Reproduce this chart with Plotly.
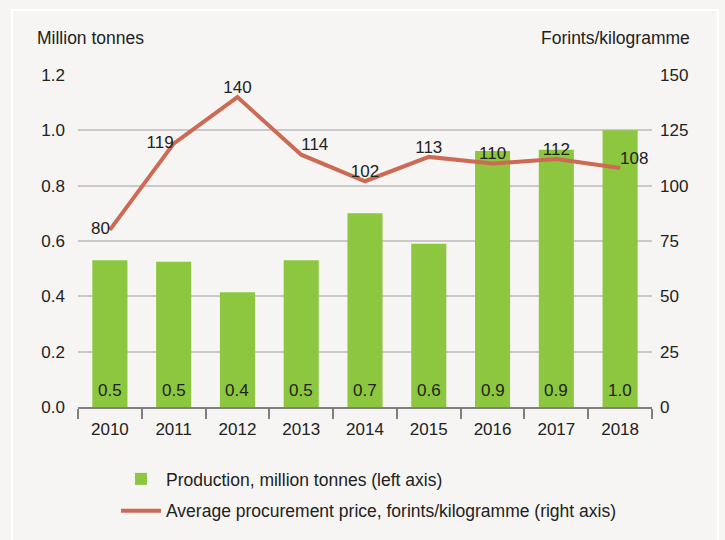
import plotly.graph_objects as go

years = ["2010", "2011", "2012", "2013", "2014", "2015", "2016", "2017", "2018"]
production = [0.53, 0.525, 0.415, 0.53, 0.70, 0.59, 0.925, 0.93, 1.0]
production_labels = ["0.5", "0.5", "0.4", "0.5", "0.7", "0.6", "0.9", "0.9", "1.0"]
price = [80, 119, 140, 114, 102, 113, 110, 112, 108]
price_label_pos = ["middle left", "middle left", "top center", "top right", "top center",
                   "top center", "top center", "top center", "top right"]
left_ticks = [0.0, 0.2, 0.4, 0.6, 0.8, 1.0, 1.2]
left_tick_text = ["0.0", "0.2", "0.4", "0.6", "0.8", "1.0", "1.2"]
right_ticks = [0, 25, 50, 75, 100, 125, 150]

FONT = "Liberation Sans, Arial, sans-serif"
BG = "#f6f5f3"
GREEN = "#8dc63f"
RED = "#cd6a53"
TXT = "#222222"
FS = 17

fig = go.Figure()
fig.add_trace(go.Bar(
    x=years, y=production, name="Production, million tonnes (left axis)",
    marker=dict(color=GREEN, line=dict(width=0)),
    text=production_labels, textposition="none",
    yaxis="y", legendgroup="a",
))
fig.add_trace(go.Scatter(
    x=years, y=price, name="Average procurement price, forints/kilogramme (right axis)",
    mode="lines+text", line=dict(color=RED, width=4),
    text=[str(v) for v in price], textposition=price_label_pos,
    textfont=dict(family=FONT, size=FS, color=TXT),
    yaxis="y2", legendgroup="b",
))

L, R, T, B = 78, 73, 75, 133
W, H = 725, 540
pw, ph = W - L - R, H - T - B

def px(x):
    return (x - L) / pw

def py(y):
    return (H - B - y) / ph

annotations = [
    dict(text="Million tonnes", xref="paper", yref="paper", x=px(35), y=py(38),
         xanchor="left", yanchor="middle", showarrow=False,
         font=dict(size=17.5, color=TXT)),
    dict(text="Forints/kilogramme", xref="paper", yref="paper", x=px(692), y=py(38),
         xanchor="right", yanchor="middle", showarrow=False,
         font=dict(size=17.5, color=TXT)),
]
# bar value labels sitting on the bar bases (x given as category index)
for i, lab in enumerate(production_labels):
    annotations.append(dict(text=lab, x=i, y=0, xref="x", yref="y",
                            yanchor="bottom", yshift=5, showarrow=False,
                            font=dict(size=FS, color=TXT)))

fig.update_layout(
    width=W, height=H,
    margin=dict(l=L, r=R, t=T, b=B, autoexpand=False),
    paper_bgcolor=BG, plot_bgcolor=BG,
    font=dict(family=FONT, size=FS, color=TXT),
    bargap=0.45,
    showlegend=True,
    legend=dict(
        x=px(116), y=py(461), xanchor="left", yanchor="top",
        orientation="v", bgcolor="rgba(0,0,0,0)",
        font=dict(family=FONT, size=17.5, color=TXT),
        itemwidth=40, tracegroupgap=6,
    ),
    xaxis=dict(
        type="category", range=[-0.5, len(years) - 0.5], automargin=False,
        showgrid=False, showline=True, linecolor="#7f7f7f", linewidth=2,
        ticks="outside", tickson="boundaries", ticklen=10, tickwidth=2, tickcolor="#7f7f7f",
        tickfont=dict(size=FS, color=TXT), ticklabelstandoff=6, tickangle=0,
    ),
    yaxis=dict(
        range=[0, 1.2], tickvals=left_ticks, ticktext=left_tick_text, automargin=False,
        showgrid=True, gridcolor="#c9c9c9", gridwidth=1.5, zeroline=False,
        ticks="", tickfont=dict(size=FS, color=TXT), showline=False,
        ticklabelstandoff=12,
    ),
    yaxis2=dict(
        range=[0, 150], tickvals=right_ticks, overlaying="y", side="right", automargin=False,
        showgrid=False, zeroline=False, ticks="", tickfont=dict(size=FS, color=TXT),
        ticklabelstandoff=7,
    ),
    annotations=annotations,
    shapes=[
        dict(type="rect", xref="paper", yref="paper", x0=px(12), x1=px(718),
             y0=py(560), y1=py(10), line=dict(color="white", width=2), layer="below"),
    ],
)

fig.write_html("out.html", config={"displayModeBar": False},
               post_script="document.body.style.margin='0';document.body.style.background='%s';" % BG)
